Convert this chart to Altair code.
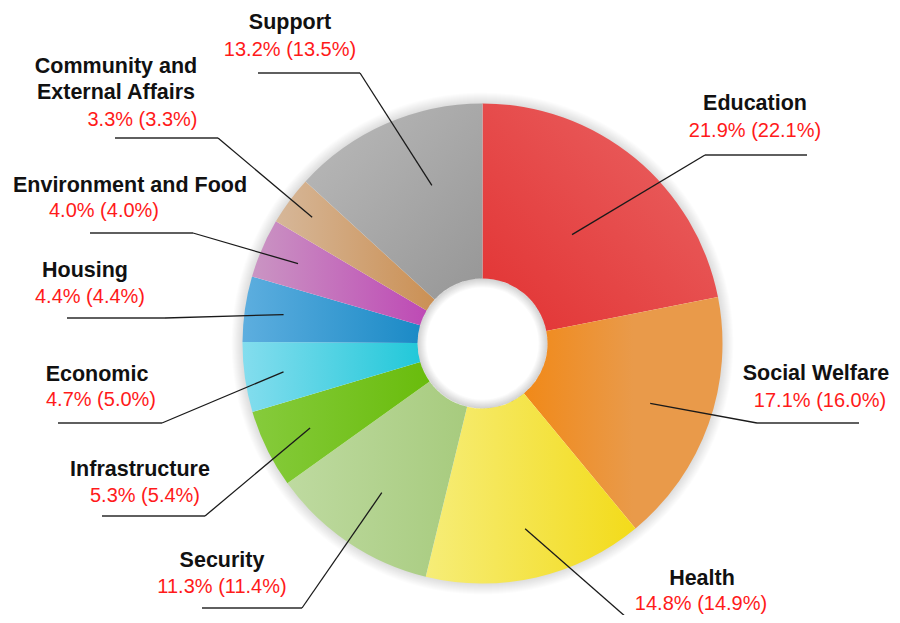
import math
import altair as alt
import pandas as pd

# ---------------- data ----------------
categories = ["Education", "Social Welfare", "Health", "Security", "Infrastructure",
              "Economic", "Housing", "Environment and Food",
              "Community and External Affairs", "Support"]
share_now = [21.9, 17.1, 14.8, 11.3, 5.3, 4.7, 4.4, 4.0, 3.3, 13.2]
share_prior = [22.1, 16.0, 14.9, 11.4, 5.4, 5.0, 4.4, 4.0, 3.3, 13.5]

# ---------------- styles ----------------
# (first colour, second colour, x1, y1, x2, y2, offset of second colour)
slice_gradients = {
    "Education": ("#e23232", "#ea6565", 0, 1, 1, 0, 1.0),
    "Social Welfare": ("#f18918", "#e99a4a", 0, 0.5, 1, 0.5, 0.55),
    "Health": ("#f6ed78", "#f3db1a", 0, 0.5, 1, 0.5, 1.0),
    "Security": ("#bedaa0", "#a7cb7e", 0, 0.5, 1, 0.5, 1.0),
    "Infrastructure": ("#86cb3c", "#69bc0c", 0, 0.5, 1, 0.5, 1.0),
    "Economic": ("#84ddee", "#22c8d9", 0, 0.5, 1, 0.5, 1.0),
    "Housing": ("#5daedf", "#1b8ac6", 0, 0.5, 1, 0.5, 1.0),
    "Environment and Food": ("#ca95c3", "#be4ab5", 0, 0.5, 1, 0.5, 1.0),
    "Community and External Affairs": ("#d6b799", "#cb9054", 0, 0.5, 1, 0.5, 1.0),
    "Support": ("#bbbbbb", "#969696", 0, 0, 1, 1, 1.0),
}
title_wrap = {"Community and External Affairs": "Community and\nExternal Affairs"}

# ---------------- layout (pixels from the pie centre, y upward) ----------------
W, H = 884, 607
CX, CY = 474.5, 335.5          # pie centre inside the plot area
R_OUT, R_IN = 240, 65
# r: leader start radius, da: angular nudge (deg), ex/ey: elbow, end: end of underline,
# tx/ty: title anchor, px/py: percentage anchor
label_layout = {
    "Education": dict(r=141, da=0, ex=222.5, ey=188.5, end=324.5, tx=272.5, ty=233.5, px=272.5, py=206.5),
    "Social Welfare": dict(r=178, da=0, ex=274.5, ey=-79.5, end=376.5, tx=333.5, ty=-36.5, px=337.5, py=-63.5),
    "Health": dict(r=190, da=0, ex=160.0, ey=-288.0, end=262.0, tx=219.5, ty=-241.5, px=218.5, py=-266.5),
    "Security": dict(r=180, da=0, ex=-180.5, ey=-264.5, end=-280.5, tx=-260.5, ty=-223.5, px=-260.5, py=-249.5),
    "Infrastructure": dict(r=192, da=0, ex=-277.5, ey=-172.5, end=-380.5, tx=-342.5, ty=-132.5, px=-337.5, py=-158.5),
    "Economic": dict(r=201, da=0, ex=-320.5, ey=-79.5, end=-424.5, tx=-385.5, ty=-37.5, px=-381.5, py=-62.5),
    "Housing": dict(r=201, da=0, ex=-317.5, ey=25.5, end=-415.5, tx=-397.5, ty=66.5, px=-392.5, py=40.5),
    "Environment and Food": dict(r=201, da=0, ex=-289.5, ey=110.5, end=-392.5, tx=-352.5, ty=151.5, px=-378.5, py=126.5),
    "Community and External Affairs": dict(r=212, da=0, ex=-264.5, ey=205.5, end=-367.5, tx=-366.5, ty=270.5, px=-340.0, py=217.5),
    "Support": dict(r=166, da=6, ex=-122.5, ey=270.5, end=-224.5, tx=-192.5, ty=314.5, px=-192.5, py=287.5),
}

rows = []
for i, c in enumerate(categories):
    row = dict(order=i, category=c, share=share_now[i], prior=share_prior[i],
               title=title_wrap.get(c, c))
    row.update(label_layout[c])
    rows.append(row)
df = pd.DataFrame(rows)

xs = alt.Scale(domain=[-CX, W - CX], nice=False, zero=False)
ys = alt.Scale(domain=[-(H - CY), CY], nice=False, zero=False)
ts = alt.Scale(domain=[0, 100], range=[0, 2 * math.pi])

cx = alt.X(datum=0, scale=xs, axis=None)
cy = alt.Y(datum=0, scale=ys, axis=None)

base = alt.Chart(df).transform_window(
    cum="sum(share)", sort=[alt.SortField("order")], frame=[None, 0]
).transform_calculate(
    start="datum.cum - datum.share",
    ang="((datum.cum - datum.share / 2) / 100) * 2 * PI + datum.da * PI / 180",
    ix="datum.r * sin(datum.ang)",
    iy="datum.r * cos(datum.ang)",
    pct="format(datum.share, '.1f') + '% (' + format(datum.prior, '.1f') + '%)'",
)

total = base.transform_aggregate(total="sum(share)")

layers = []
# soft outer shadow
for k in range(1, 12):
    layers.append(total.mark_arc(innerRadius=R_OUT - 1, outerRadius=R_OUT + k, color="black",
                                 opacity=0.012).encode(
        theta=alt.Theta("total:Q", scale=ts), x=cx, y=cy))

# slices with individual gradients
for c in categories:
    c0, c1, x1, y1, x2, y2, off = slice_gradients[c]
    stops = [alt.GradientStop(color=c0, offset=0), alt.GradientStop(color=c1, offset=off)]
    if off < 1:
        stops.append(alt.GradientStop(color=c1, offset=1))
    g = alt.Gradient(gradient="linear", stops=stops, x1=x1, y1=y1, x2=x2, y2=y2)
    layers.append(base.transform_filter(alt.datum.category == c).mark_arc(
        innerRadius=R_IN, outerRadius=R_OUT, fill=g).encode(
        theta=alt.Theta("start:Q", scale=ts, stack=None),
        theta2=alt.Theta2("cum:Q"), x=cx, y=cy))

# inner shadow inside the hole
for k in range(1, 10):
    layers.append(total.mark_arc(innerRadius=R_IN - k, outerRadius=R_IN, color="black",
                                 opacity=0.02).encode(
        theta=alt.Theta("total:Q", scale=ts), x=cx, y=cy))

# leader lines
layers.append(base.mark_rule(color="#1a1a1a", strokeWidth=1.3, clip=True).encode(
    x=alt.X("ix:Q", scale=xs, axis=None), y=alt.Y("iy:Q", scale=ys, axis=None),
    x2="ex:Q", y2="ey:Q"))
layers.append(base.mark_rule(color="#2a2a2a", strokeWidth=1.5, clip=True).encode(
    x=alt.X("ex:Q", scale=xs, axis=None), y=alt.Y("ey:Q", scale=ys, axis=None),
    x2="end:Q", y2="ey:Q"))

# labels
layers.append(base.mark_text(font="Liberation Sans", fontSize=21.5, fontWeight="bold",
                             color="#111111", align="center", baseline="alphabetic",
                             lineBreak="\n", lineHeight=26).encode(
    x=alt.X("tx:Q", scale=xs, axis=None), y=alt.Y("ty:Q", scale=ys, axis=None),
    text="title:N"))
layers.append(base.mark_text(font="Liberation Sans", fontSize=20, color="#ff1a1a",
                             align="center", baseline="alphabetic").encode(
    x=alt.X("px:Q", scale=xs, axis=None), y=alt.Y("py:Q", scale=ys, axis=None),
    text="pct:N"))

chart = alt.layer(*layers).properties(
    width=W, height=H, padding=0, background="white",
    autosize=alt.AutoSizeParams(type="none"),
).configure_view(stroke=None)

chart.save("out.html", embed_options={"renderer": "svg", "actions": False})
